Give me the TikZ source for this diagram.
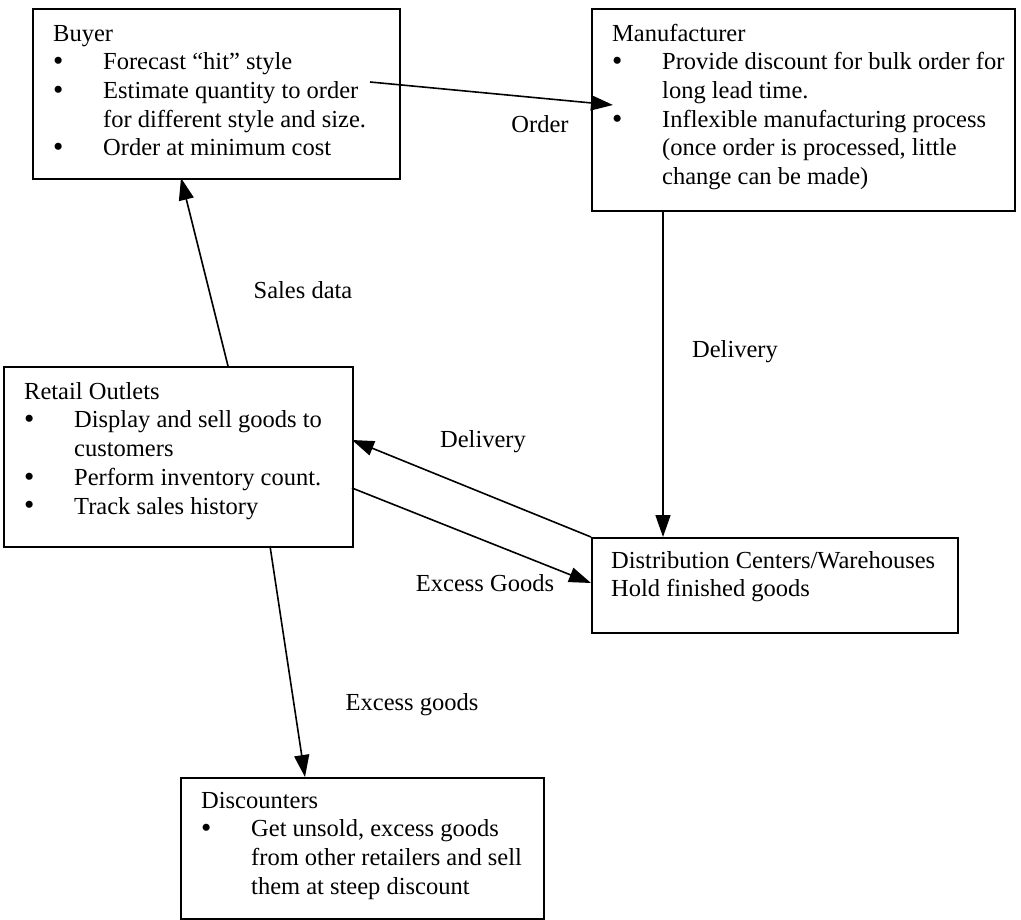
\documentclass[tikz,border=0pt]{standalone}
\usepackage{fontspec}
\setmainfont{Liberation Serif}
\usetikzlibrary{arrows.meta}
\newcommand\bul{\makebox[50pt][l]{\raisebox{-0.8pt}{\scalebox{1.2}{\textbullet}}}}
\newcommand\ind{\hspace*{50pt}}
\newcommand\st{\rule{0pt}{20pt}}
\begin{document}
\begin{tikzpicture}[x=1pt,y=-1pt,
 box/.style={draw=black, line width=1.7pt, anchor=north west, inner sep=0pt},
 txt/.style={anchor=north west, inner sep=0pt, align=left, font=\fontsize{24.5}{28.7}\selectfont},
 lbl/.style={inner sep=0pt, font=\fontsize{24.5}{28.7}\selectfont},
 arr/.style={line width=1.6pt, -{Triangle[length=22pt,width=15pt]}}]
\useasboundingbox (0,0) rectangle (1021,920);
% boxes
\node[box, minimum width=367pt, minimum height=170pt] (buyer) at (32,8) {};
\node[box, minimum width=423pt, minimum height=202pt] (manuf) at (591,8) {};
\node[box, minimum width=349pt, minimum height=180pt] (retail) at (3,366) {};
\node[box, minimum width=366pt, minimum height=95pt] (dc) at (591,537) {};
\node[box, minimum width=363pt, minimum height=141pt] (disc) at (180,777) {};
% texts
\node[txt] (buyertxt) at (53,21) {\st Buyer\\ \bul Forecast “hit” style\\ \bul Estimate quantity to order\\ \ind for different style and size.\\ \bul Order at minimum cost};
\node[txt] (manuftxt) at (612,21) {\st Manufacturer\\ \bul Provide discount for bulk order for\\ \ind long lead time.\\ \bul Inflexible manufacturing process\\ \ind (once order is processed, little\\ \ind change can be made)};
\node[txt] (retailtxt) at (24,379) {\st Retail Outlets\\ \bul Display and sell goods to\\ \ind customers\\ \bul Perform inventory count.\\ \bul Track sales history};
\node[txt] (dctxt) at (611,548) {\st Distribution Centers/Warehouses\\ Hold finished goods};
\node[txt] (disctxt) at (201,788) {\st Discounters\\ \bul Get unsold, excess goods\\ \ind from other retailers and sell\\ \ind them at steep discount};
% labels
\node[lbl] (lorder) at (540,124) {Order};
\node[lbl] (lsales) at (303,290) {Sales data};
\node[lbl] (ldelv) at (735,352) {Delivery};
\node[lbl] (ldeld) at (483,442) {Delivery};
\node[lbl] (lexdc) at (485,583) {Excess Goods};
\node[lbl] (lexdisc) at (412,705) {Excess goods};
% connector end points
\coordinate (o1) at (370,82);
\coordinate (o2) at (613,105);
\coordinate (s1) at (228,366);
\coordinate (s2) at (181,178);
\coordinate (v1) at (663,210);
\coordinate (v2) at (663,537);
\coordinate (d1) at (591,537);
\coordinate (d2) at (352,440);
\coordinate (e1) at (352,488);
\coordinate (e2) at (591,583);
\coordinate (x1) at (270,546);
\coordinate (x2) at (305,777);
% connectors
\draw[arr] (o1) -- (o2);
\draw[arr] (s1) -- (s2);
\draw[arr] (v1) -- (v2);
\draw[arr] (d1) -- (d2);
\draw[arr] (e1) -- (e2);
\draw[arr] (x1) -- (x2);
\end{tikzpicture}
\end{document}
